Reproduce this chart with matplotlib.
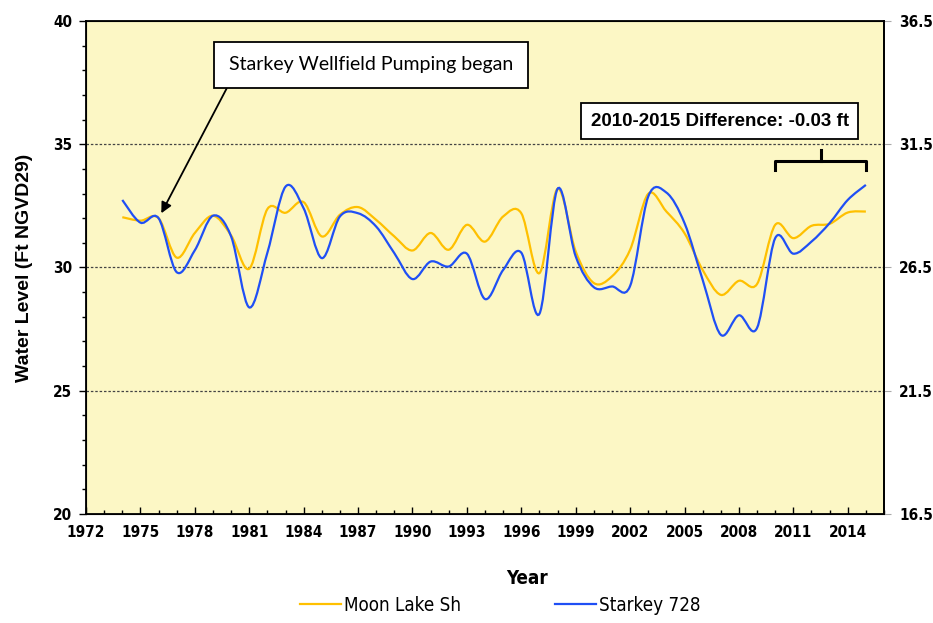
import numpy as np
import matplotlib
matplotlib.use("Agg")
import matplotlib.pyplot as plt
from matplotlib.path import Path
from matplotlib.patches import PathPatch
from matplotlib.lines import Line2D
from matplotlib.ticker import MultipleLocator
from matplotlib.font_manager import FontProperties

# annual water levels (ft NGVD29)
years = list(range(1974, 2016))
moon_lake = [32.04, 31.90, 32.00, 30.40, 31.40, 32.10, 31.30, 29.95, 32.37, 32.22,
             32.65, 31.26, 32.14, 32.45, 31.93, 31.26, 30.69, 31.40, 30.72, 31.73,
             31.05, 32.07, 32.20, 29.77, 33.19, 30.65, 29.37, 29.64, 30.72, 32.99,
             32.27, 31.39, 29.90, 28.89, 29.46, 29.33, 31.73, 31.19, 31.69, 31.77,
             32.23, 32.27]
starkey_728 = [32.74, 31.82, 32.00, 29.81, 30.70, 32.10, 31.26, 28.38, 30.60, 33.28,
               32.40, 30.38, 32.07, 32.20, 31.66, 30.58, 29.53, 30.24, 30.04, 30.56,
               28.72, 29.90, 30.60, 28.12, 33.19, 30.45, 29.20, 29.23, 29.25, 32.88,
               33.04, 31.80, 29.50, 27.27, 28.06, 27.55, 31.19, 30.56, 31.05, 31.80,
               32.74, 33.35]
series_names = ["Moon Lake Sh", "Starkey 728"]
series_colors = ["#FFC000", "#1F4FF5"]

xticks = list(range(1972, 2015, 3))
right_ticks = [16.5, 21.5, 26.5, 31.5, 36.5]

tick_font = FontProperties(family="DejaVu Sans", stretch="condensed", weight="bold", size=11)
leg_font = FontProperties(family="DejaVu Sans", stretch="condensed", size=13.5)
year_font = FontProperties(family="DejaVu Sans", stretch="condensed", weight="bold", size=13.5)
arial = ["Liberation Sans", "DejaVu Sans"]


def smooth_path(xs, ys):
    # Catmull-Rom style bezier through every point, like a smoothed line chart
    pts = np.column_stack([np.asarray(xs, float), np.asarray(ys, float)])
    verts = [pts[0]]
    codes = [Path.MOVETO]
    n = len(pts)
    for i in range(n - 1):
        p0 = pts[i - 1] if i > 0 else pts[i]
        p1 = pts[i]
        p2 = pts[i + 1]
        p3 = pts[i + 2] if i + 2 < n else pts[i + 1]
        verts += [p1 + (p2 - p0) / 6.0, p2 - (p3 - p1) / 6.0, p2]
        codes += [Path.CURVE4] * 3
    return Path(verts, codes)


fig = plt.figure(figsize=(9.33, 6.23), dpi=100)
ax = fig.add_axes([0.0922, 0.175, 0.8553, 0.7913])
ax.set_facecolor("#FCF7C5")

for vals, c in zip([moon_lake, starkey_728], series_colors):
    ax.add_patch(PathPatch(smooth_path(years, vals), fill=False, edgecolor=c,
                           linewidth=1.6, zorder=3))

ax.set_xlim(1972, 2016)
ax.set_ylim(20, 40)
ax.set_xticks(xticks)
ax.xaxis.set_minor_locator(MultipleLocator(1))
ax.yaxis.set_major_locator(MultipleLocator(5))
ax.yaxis.set_minor_locator(MultipleLocator(1))
ax.tick_params(which="major", direction="out", length=5, width=1)
ax.tick_params(which="minor", direction="out", length=3, width=1)
ax.tick_params(axis="x", which="both", direction="in", pad=8)
ax.tick_params(axis="y", which="major", pad=5)
for lbl in ax.get_xticklabels() + ax.get_yticklabels():
    lbl.set_fontproperties(tick_font)

for v in [25, 30, 35]:
    ax.axhline(v, color="#444444", linestyle=(0, (2, 1.5)), linewidth=0.9, zorder=1)

for s in ax.spines.values():
    s.set_linewidth(1.3)

ax.set_ylabel("Water Level (Ft NGVD29)", fontsize=14, fontweight="bold", family=arial)
ax.yaxis.set_label_coords(-0.066, 0.5)
ax.set_xlabel("Year", fontproperties=year_font)
ax.xaxis.set_label_coords(0.553, -0.112)

# secondary scale on the right
ax2 = ax.twinx()
ax2.set_ylim(16.5, 36.5)
ax2.set_yticks(right_ticks)
ax2.tick_params(axis="y", direction="out", length=5, color="#AAAAAA", pad=6)
for lbl in ax2.get_yticklabels():
    lbl.set_fontproperties(tick_font)
ax2.spines["right"].set_linewidth(1.3)

# pumping start callout
ax.annotate("Starkey Wellfield Pumping began", xy=(1976.15, 32.2),
            xytext=(1987.72, 38.23), fontsize=14, family=["Lato", "DejaVu Sans"],
            ha="center", va="center",
            bbox=dict(boxstyle="square,pad=0.75", facecolor="white",
                      edgecolor="black", linewidth=1.3),
            arrowprops=dict(arrowstyle="-|>", color="black", lw=1.3,
                            mutation_scale=16, shrinkA=0, shrinkB=0,
                            relpos=(0.02, 0.0)),
            zorder=5)

# difference callout and bracket over 2010-2015
ax.text(2006.95, 35.94, "2010-2015 Difference: -0.03 ft", fontsize=13.5,
        fontweight="bold", family=arial, ha="center", va="center",
        bbox=dict(boxstyle="square,pad=0.5", facecolor="white",
                  edgecolor="black", linewidth=1.3), zorder=5)
ax.plot([2010, 2010, 2015, 2015], [33.95, 34.3, 34.3, 33.95], color="black",
        linewidth=2.2, solid_joinstyle="round", zorder=4)
ax.plot([2012.5, 2012.5], [34.3, 34.75], color="black", linewidth=2.2, zorder=4)

handles = [Line2D([0], [0], color=c, linewidth=1.6) for c in series_colors]
fig.legend(handles, series_names, loc="center", bbox_to_anchor=(0.536, 0.028),
           ncol=2, frameon=False, handlelength=2.2, handletextpad=0.15,
           columnspacing=5.0, prop=leg_font)

fig.savefig("out.png", dpi=100)
